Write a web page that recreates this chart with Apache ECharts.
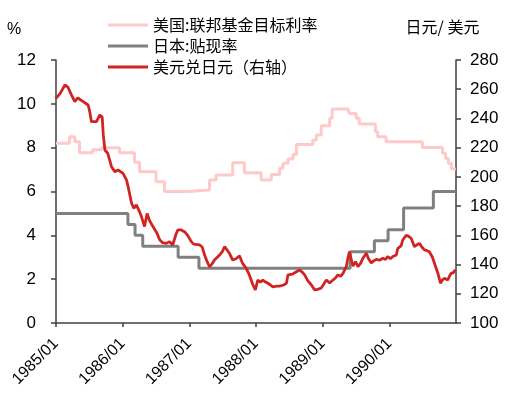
<!DOCTYPE html>
<html>
<head>
<meta charset="utf-8">
<title>美元兑日元与美日利率</title>
<style>
  html, body { margin: 0; padding: 0; background: #fff; }
  #main { width: 508px; height: 399px; }
</style>
<script src="https://cdn.jsdelivr.net/npm/echarts@6/dist/echarts.min.js"></script>
</head>
<body>
<div id="main"></div>
<script>
// 美国:联邦基金目标利率（%），每次调整的日期和新值
var fedDates = [
  '1985-01-01', '1985-03-16', '1985-04-14', '1985-05-10', '1985-07-21', '1985-09-07',
  '1985-12-15', '1986-03-07', '1986-04-04', '1986-07-03', '1986-08-18', '1986-12-25',
  '1987-04-22', '1987-05-28', '1987-08-27', '1987-10-30', '1988-01-30', '1988-03-25',
  '1988-05-10', '1988-05-28', '1988-06-25', '1988-07-22', '1988-08-10', '1988-11-08',
  '1988-11-27', '1988-12-24', '1989-02-08', '1989-02-22', '1989-05-19', '1989-05-27',
  '1989-07-03', '1989-07-20', '1989-10-16', '1989-10-29', '1989-12-14', '1990-07-01',
  '1990-10-19', '1990-11-05', '1990-11-20', '1990-12-08', '1990-12-31'
]
var fedRates = [
  8.2, 8.5, 8.27, 7.77, 7.9, 8.0,
  7.77, 7.33, 6.9, 6.45, 6.0, 6.07,
  6.52, 6.75, 7.31, 6.86, 6.52, 6.78,
  7.06, 7.29, 7.48, 7.69, 8.14, 8.35,
  8.58, 9.0, 9.34, 9.76, 9.82, 9.56,
  9.34, 9.08, 8.73, 8.5, 8.27, 8.01,
  7.74, 7.51, 7.29, 7.03, 7.03
]

// 日本:贴现率（%）
var bojDates = [
  '1985-01-01', '1986-01-30', '1986-03-10', '1986-04-21', '1986-11-01', '1987-02-23',
  '1989-05-31', '1989-10-11', '1989-12-25', '1990-03-20', '1990-08-30', '1990-12-31'
]
var bojRates = [5.0, 4.5, 4.0, 3.5, 3.0, 2.5, 3.25, 3.75, 4.25, 5.25, 6.0, 6.0]

// 美元兑日元（右轴）
var fxDates = [
  '1985-01-01', '1985-01-23', '1985-02-19', '1985-03-07', '1985-03-27', '1985-04-14',
  '1985-04-30', '1985-05-30', '1985-06-26', '1985-07-05', '1985-07-14', '1985-08-11',
  '1985-08-29', '1985-09-11', '1985-09-17', '1985-09-26', '1985-10-12', '1985-11-01',
  '1985-11-19', '1985-12-07', '1986-01-03', '1986-01-22', '1986-01-31', '1986-02-19',
  '1986-03-03', '1986-03-17', '1986-04-04', '1986-04-14', '1986-05-01', '1986-05-15',
  '1986-05-29', '1986-06-16', '1986-07-06', '1986-07-23', '1986-08-08', '1986-08-28',
  '1986-09-15', '1986-10-02', '1986-10-22', '1986-10-31', '1986-11-18', '1986-12-06',
  '1986-12-23', '1987-01-12', '1987-01-25', '1987-02-27', '1987-03-13', '1987-03-26',
  '1987-04-09', '1987-04-22', '1987-05-06', '1987-05-19', '1987-06-16', '1987-07-02',
  '1987-07-13', '1987-07-27', '1987-08-09', '1987-08-27', '1987-09-14', '1987-10-03',
  '1987-10-19', '1987-11-09', '1987-11-26', '1987-12-13', '1987-12-29', '1988-01-11',
  '1988-01-26', '1988-02-08', '1988-02-23', '1988-03-07', '1988-03-21', '1988-04-03',
  '1988-04-23', '1988-05-10', '1988-06-01', '1988-06-16', '1988-06-25', '1988-07-04',
  '1988-07-20', '1988-08-10', '1988-08-28', '1988-09-13', '1988-09-24', '1988-10-11',
  '1988-10-31', '1988-11-18', '1988-12-04', '1988-12-24', '1989-01-06', '1989-01-21',
  '1989-02-08', '1989-02-26', '1989-03-13', '1989-03-25', '1989-04-09', '1989-04-22',
  '1989-05-10', '1989-05-20', '1989-05-28', '1989-06-07', '1989-06-16', '1989-06-30',
  '1989-07-13', '1989-07-28', '1989-08-09', '1989-08-28', '1989-09-09', '1989-09-24',
  '1989-10-07', '1989-10-21', '1989-11-08', '1989-11-26', '1989-12-11', '1989-12-23',
  '1990-01-07', '1990-01-20', '1990-02-08', '1990-02-16', '1990-03-07', '1990-03-15',
  '1990-04-03', '1990-04-15', '1990-04-30', '1990-05-10', '1990-05-18', '1990-06-01',
  '1990-06-15', '1990-06-28', '1990-07-12', '1990-07-26', '1990-08-08', '1990-08-25',
  '1990-09-10', '1990-09-24', '1990-10-08', '1990-10-19', '1990-10-30', '1990-11-17',
  '1990-11-26', '1990-12-05', '1990-12-18', '1990-12-28'
]
var fxValues = [
  253.8, 257, 262.9, 261.5, 256, 251.5,
  254, 251.5, 249.2, 244.6, 237.8, 237.8,
  242.4, 241, 228.7, 218.4, 216, 207,
  203.6, 204.7, 202.4, 198, 193.3, 182,
  178.5, 180.8, 176, 172.8, 166, 175,
  170, 166, 162, 157, 155, 154.5,
  155.7, 153.4, 161.4, 163.7, 163.7, 162.5,
  160, 155.7, 154, 153.4, 152, 146.5,
  142, 138.5, 140.5, 143.1, 146.5, 149,
  152.2, 150, 147.7, 143.1, 144, 146,
  141, 137.4, 132.9, 127, 122.6, 129.4,
  128, 129.4, 128, 127.2, 126, 124.8,
  125.3, 125.3, 126, 127.2, 133, 134,
  133.5, 135.1, 136.3, 134.5, 132.9, 129,
  126, 122.6, 123, 124, 126.5, 129.4,
  127.5, 129.4, 131, 132.9, 132, 134,
  138.5, 145, 148.8, 143, 139, 142,
  138.5, 141, 144.3, 147.7, 144, 141,
  142.5, 143.5, 143, 144.3, 143.5, 145.4,
  144, 145.5, 146.5, 151, 153, 156.8,
  160, 159.5, 158, 155, 152.2, 153.5,
  154.5, 152, 150, 149.5, 148.8, 145,
  139, 134, 127.2, 129.5, 130.6, 129.4,
  132, 134, 134.5, 136.5
]

var leftTicks = { min: 0, max: 12, interval: 2 }
var rightTicks = { min: 100, max: 280, interval: 20 }

function pairs(dates, values) {
  return dates.map(function (d, i) {
    return [d, values[i]]
  })
}

var axisColor = '#404040'
var numFont = 'Arial, "Liberation Sans", sans-serif'
var cjkFont = '"Noto Sans CJK SC", sans-serif'
var yearMs = 365 * 24 * 3600 * 1000

var chart = echarts.init(document.getElementById('main'))
chart.setOption({
  animation: false,
  legend: {
    orient: 'vertical',
    left: 103,
    top: 12,
    icon: 'rect',
    itemWidth: 40,
    itemHeight: 3,
    itemGap: 5,
    textStyle: {
      fontFamily: cjkFont,
      fontSize: 16,
      lineHeight: 16,
      color: '#000'
    },
    data: ['美国:联邦基金目标利率', '日本:贴现率', '美元兑日元（右轴）']
  },
  grid: {
    left: 56,
    right: 52,
    top: 60,
    bottom: 76,
    containLabel: false,
    outerBoundsMode: 'none'
  },
  xAxis: {
    type: 'time',
    min: '1985-01-01',
    max: '1991-01-01',
    minInterval: yearMs,
    maxInterval: yearMs + 24 * 3600 * 1000,
    axisLine: { lineStyle: { color: axisColor, width: 1.5 } },
    axisTick: { show: true, length: 4, lineStyle: { color: axisColor, width: 1.5 } },
    axisLabel: {
      rotate: 45,
      margin: 18,
      fontSize: 16,
      fontFamily: numFont,
      color: '#000',
      hideOverlap: false,
      formatter: function (v) {
        var d = new Date(v)
        if (d.getMonth() !== 0 || d.getFullYear() > 1990) return ''
        return d.getFullYear() + '/01'
      }
    },
    splitLine: { show: false }
  },
  yAxis: [
    {
      type: 'value',
      min: leftTicks.min,
      max: leftTicks.max,
      interval: leftTicks.interval,
      name: '%',
      nameLocation: 'end',
      nameGap: 22,
      nameTextStyle: {
        fontFamily: numFont,
        fontSize: 16,
        color: '#000',
        align: 'center',
        verticalAlign: 'bottom',
        padding: [0, 84, 0, 0]
      },
      axisLine: { show: true, lineStyle: { color: axisColor, width: 1.5 } },
      axisTick: { show: true, length: 5, lineStyle: { color: axisColor, width: 1.5 } },
      axisLabel: { margin: 20, fontSize: 17, fontFamily: numFont, color: '#000' },
      splitLine: { show: false }
    },
    {
      type: 'value',
      min: rightTicks.min,
      max: rightTicks.max,
      interval: rightTicks.interval,
      name: '日元/ 美元',
      nameLocation: 'end',
      nameGap: 25,
      nameTextStyle: {
        fontFamily: cjkFont,
        fontSize: 16,
        color: '#000',
        align: 'center',
        verticalAlign: 'bottom',
        padding: [0, 27, 0, 0]
      },
      axisLine: { show: true, lineStyle: { color: axisColor, width: 1.5 } },
      axisTick: { show: true, length: 5, lineStyle: { color: axisColor, width: 1.5 } },
      axisLabel: { margin: 14, fontSize: 17, fontFamily: numFont, color: '#000' },
      splitLine: { show: false }
    }
  ],
  series: [
    {
      name: '美国:联邦基金目标利率',
      type: 'line',
      step: 'end',
      yAxisIndex: 0,
      showSymbol: false,
      color: '#FFC9C9',
      lineStyle: { width: 3, color: '#FFC9C9' },
      data: pairs(fedDates, fedRates)
    },
    {
      name: '日本:贴现率',
      type: 'line',
      step: 'end',
      yAxisIndex: 0,
      showSymbol: false,
      color: '#808080',
      lineStyle: { width: 3, color: '#808080' },
      data: pairs(bojDates, bojRates)
    },
    {
      name: '美元兑日元（右轴）',
      type: 'line',
      yAxisIndex: 1,
      showSymbol: false,
      color: '#D22323',
      lineStyle: { width: 2.8, color: '#D22323' },
      data: pairs(fxDates, fxValues)
    }
  ]
})
</script>
</body>
</html>
